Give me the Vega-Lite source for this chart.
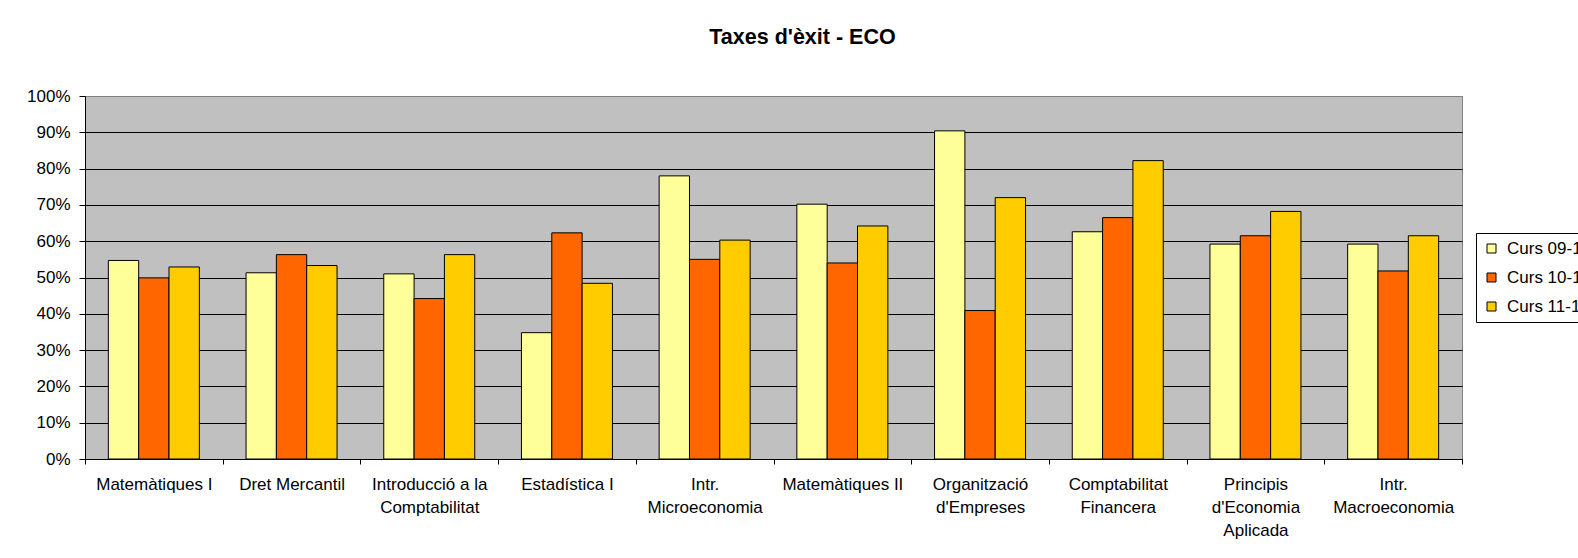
{
  "$schema": "https://vega.github.io/schema/vega-lite/v6.json",
  "width": 1377,
  "height": 363,
  "autosize": "none",
  "padding": {"left": 85, "top": 96, "right": 116, "bottom": 99},
  "background": "white",
  "title": {
    "text": "Taxes d'èxit - ECO",
    "font": "Liberation Sans",
    "fontSize": 21.5,
    "fontWeight": "bold",
    "color": "black",
    "anchor": "middle",
    "frame": "group",
    "dx": 29,
    "offset": 22,
    "baseline": "alphabetic"
  },
  "data": {
    "values": [
      {"assignatura": "Matemàtiques I", "curs": "Curs 09-10", "taxa": 0.547},
      {"assignatura": "Matemàtiques I", "curs": "Curs 10-11", "taxa": 0.499},
      {"assignatura": "Matemàtiques I", "curs": "Curs 11-12", "taxa": 0.529},
      {"assignatura": "Dret Mercantil", "curs": "Curs 09-10", "taxa": 0.513},
      {"assignatura": "Dret Mercantil", "curs": "Curs 10-11", "taxa": 0.563},
      {"assignatura": "Dret Mercantil", "curs": "Curs 11-12", "taxa": 0.533},
      {"assignatura": "Introducció a la Comptabilitat", "curs": "Curs 09-10", "taxa": 0.510},
      {"assignatura": "Introducció a la Comptabilitat", "curs": "Curs 10-11", "taxa": 0.442},
      {"assignatura": "Introducció a la Comptabilitat", "curs": "Curs 11-12", "taxa": 0.563},
      {"assignatura": "Estadística I", "curs": "Curs 09-10", "taxa": 0.348},
      {"assignatura": "Estadística I", "curs": "Curs 10-11", "taxa": 0.623},
      {"assignatura": "Estadística I", "curs": "Curs 11-12", "taxa": 0.484},
      {"assignatura": "Intr. Microeconomia", "curs": "Curs 09-10", "taxa": 0.780},
      {"assignatura": "Intr. Microeconomia", "curs": "Curs 10-11", "taxa": 0.550},
      {"assignatura": "Intr. Microeconomia", "curs": "Curs 11-12", "taxa": 0.603},
      {"assignatura": "Matemàtiques II", "curs": "Curs 09-10", "taxa": 0.702},
      {"assignatura": "Matemàtiques II", "curs": "Curs 10-11", "taxa": 0.540},
      {"assignatura": "Matemàtiques II", "curs": "Curs 11-12", "taxa": 0.642},
      {"assignatura": "Organització d'Empreses", "curs": "Curs 09-10", "taxa": 0.904},
      {"assignatura": "Organització d'Empreses", "curs": "Curs 10-11", "taxa": 0.409},
      {"assignatura": "Organització d'Empreses", "curs": "Curs 11-12", "taxa": 0.720},
      {"assignatura": "Comptabilitat Financera", "curs": "Curs 09-10", "taxa": 0.626},
      {"assignatura": "Comptabilitat Financera", "curs": "Curs 10-11", "taxa": 0.665},
      {"assignatura": "Comptabilitat Financera", "curs": "Curs 11-12", "taxa": 0.822},
      {"assignatura": "Principis d'Economia Aplicada", "curs": "Curs 09-10", "taxa": 0.592},
      {"assignatura": "Principis d'Economia Aplicada", "curs": "Curs 10-11", "taxa": 0.615},
      {"assignatura": "Principis d'Economia Aplicada", "curs": "Curs 11-12", "taxa": 0.682},
      {"assignatura": "Intr. Macroeconomia", "curs": "Curs 09-10", "taxa": 0.592},
      {"assignatura": "Intr. Macroeconomia", "curs": "Curs 10-11", "taxa": 0.518},
      {"assignatura": "Intr. Macroeconomia", "curs": "Curs 11-12", "taxa": 0.615}
    ]
  },
  "mark": {"type": "bar", "stroke": "black", "strokeWidth": 1},
  "encoding": {
    "x": {
      "field": "assignatura",
      "type": "nominal",
      "sort": null,
      "scale": {"paddingInner": 0, "paddingOuter": 0},
      "axis": {
        "title": null,
        "tickBand": "extent",
        "tickSize": 5,
        "tickColor": "black",
        "domainColor": "black",
        "grid": false,
        "labelAngle": 0,
        "labelFont": "Liberation Sans",
        "labelFontSize": 17,
        "labelColor": "black",
        "labelPadding": 12,
        "labelLineHeight": 23,
        "labelLimit": 0,
        "labelExpr": "datum.label == 'Introducció a la Comptabilitat' ? ['Introducció a la', 'Comptabilitat'] : datum.label == 'Intr. Microeconomia' ? ['Intr.', 'Microeconomia'] : datum.label == \"Organització d'Empreses\" ? ['Organització', \"d'Empreses\"] : datum.label == 'Comptabilitat Financera' ? ['Comptabilitat', 'Financera'] : datum.label == \"Principis d'Economia Aplicada\" ? ['Principis', \"d'Economia\", 'Aplicada'] : datum.label == 'Intr. Macroeconomia' ? ['Intr.', 'Macroeconomia'] : datum.label"
      }
    },
    "xOffset": {
      "field": "curs",
      "type": "nominal",
      "scale": {"paddingInner": 0, "paddingOuter": 0.77}
    },
    "y": {
      "field": "taxa",
      "type": "quantitative",
      "scale": {"domain": [0, 1], "nice": false},
      "axis": {
        "title": null,
        "values": [0, 0.1, 0.2, 0.3, 0.4, 0.5, 0.6, 0.7, 0.8, 0.9, 1],
        "format": ".0%",
        "tickSize": 6,
        "tickColor": "black",
        "domainColor": "black",
        "labelFont": "Liberation Sans",
        "labelFontSize": 17,
        "labelColor": "black",
        "labelPadding": 9,
        "gridColor": {"condition": {"test": "datum.value >= 1", "value": "#808080"}, "value": "black"},
        "gridWidth": 1
      }
    },
    "color": {
      "field": "curs",
      "type": "nominal",
      "scale": {"domain": ["Curs 09-10", "Curs 10-11", "Curs 11-12"], "range": ["#FFFF99", "#FF6600", "#FFCC00"]},
      "legend": {
        "title": null,
        "orient": "none",
        "legendX": 1391,
        "legendY": 137,
        "strokeColor": "black",
        "fillColor": "white",
        "padding": 7,
        "symbolType": "square",
        "symbolSize": 81,
        "symbolStrokeColor": "black",
        "symbolStrokeWidth": 1,
        "symbolOpacity": 1,
        "labelFont": "Liberation Sans",
        "labelFontSize": 17,
        "labelColor": "black",
        "labelOffset": 7,
        "rowPadding": 11
      }
    }
  },
  "config": {
    "view": {"fill": "#C0C0C0", "stroke": "#808080", "strokeWidth": 1},
    "font": "Liberation Sans"
  }
}
